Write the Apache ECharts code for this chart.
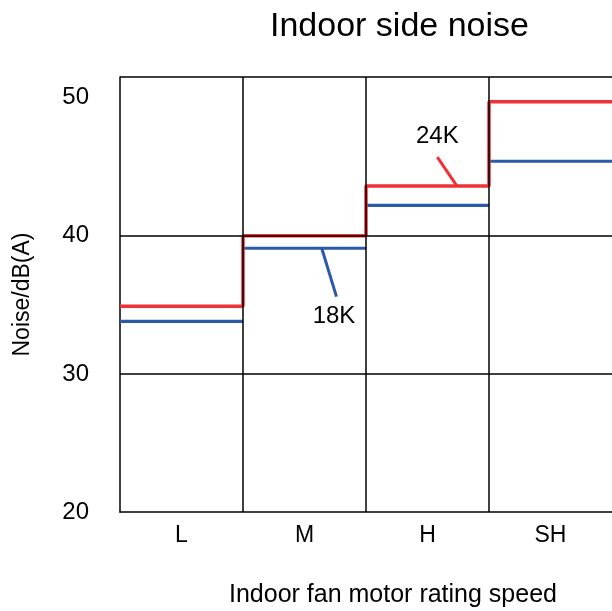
<!DOCTYPE html>
<html><head><meta charset="utf-8">
<script src="https://cdn.jsdelivr.net/npm/echarts@6/dist/echarts.min.js"></script>
<style>html,body{margin:0;padding:0;background:#fff}#c{width:612px;height:611px}</style>
</head><body><div id="c"></div>
<script>
var categories = ['L', 'M', 'H', 'SH'];
var noise24K = [34.9, 40.0, 43.6, 49.7];
var noise18K = [33.8, 39.1, 42.2, 45.4];
var yTicks = [20, 30, 40, 50];
var yMax = 51.5;
var label24K = {text: '24K', at: [2.58, 47.2], leader: [[2.58, 45.7], [2.74, 43.6]]};
var label18K = {text: '18K', at: [1.74, 34.2], leader: [[1.64, 39.1], [1.76, 35.6]]};

var FONT = 'Liberation Sans, Arial, sans-serif';
var RED = '#ee3237', BLUE = '#2a5aa8';

function stepData(vals) {
  var d = [];
  vals.forEach(function (v, i) { d.push([i, v]); d.push([i + 1, v]); });
  return d;
}
function segData(vals) {
  var d = [];
  vals.forEach(function (v, i) { d.push([i, v]); d.push([i + 1, v]); d.push(null); });
  return d;
}

var chart = echarts.init(document.getElementById('c'), null, {renderer: 'canvas'});
chart.setOption({
  animation: false,
  backgroundColor: '#fff',
  title: {
    text: 'Indoor side noise', left: 265, top: 5,
    textStyle: {fontFamily: FONT, fontSize: 34, fontWeight: 'normal', color: '#000'}
  },
  graphic: [{
    type: 'text', left: 229, top: 583,
    style: {text: 'Indoor fan motor rating speed', font: '25px ' + FONT, fill: '#000'}
  }],
  grid: {left: 120, top: 77, bottom: 99, right: 0, show: false, containLabel: false},
  xAxis: {
    type: 'value', min: 0, max: categories.length, interval: 0.5,
    axisLine: {show: true, lineStyle: {color: '#000', width: 1.5}},
    axisTick: {show: false},
    splitLine: {show: false},
    axisLabel: {
      fontFamily: FONT, fontSize: 23, color: '#000', margin: 12,
      showMaxLabel: false, showMinLabel: false,
      formatter: function (v) {
        var r = Math.round(v * 2) / 2;
        if (Math.abs(r % 1 - 0.5) < 1e-6) { return categories[Math.floor(r)] || ''; }
        return '';
      }
    }
  },
  yAxis: {
    type: 'value', min: yTicks[0], max: yMax, interval: 10,
    axisLine: {show: true, lineStyle: {color: '#000', width: 1.5}},
    axisTick: {show: false},
    splitLine: {show: false},
    axisLabel: {fontFamily: FONT, fontSize: 24, color: '#000', margin: 31, showMaxLabel: false,
      padding: [4, 0, 0, 0],
      formatter: function (v) { return yTicks.indexOf(v) >= 0 ? String(v) : ''; }},
    name: 'Noise/dB(A)', nameLocation: 'middle', nameGap: 86,
    nameTextStyle: {fontFamily: FONT, fontSize: 23, color: '#000'}
  },
  series: [
    {
      type: 'line', data: [], silent: true,
      markLine: {
        silent: true, symbol: 'none', label: {show: false},
        lineStyle: {color: '#000', width: 1.5, type: 'solid'},
        data: [{yAxis: 30}, {yAxis: 40}, {yAxis: yMax}, {xAxis: 1}, {xAxis: 2}, {xAxis: 3}]
      }
    },
    {
      name: '18K', type: 'line', data: segData(noise18K), connectNulls: false,
      showSymbol: false, symbol: 'none',
      lineStyle: {color: BLUE, width: 3.2}, itemStyle: {color: BLUE},
      markLine: {
        silent: true, symbol: 'none', label: {show: false},
        lineStyle: {color: BLUE, width: 3, type: 'solid'},
        data: [[{coord: label18K.leader[0]}, {coord: label18K.leader[1]}]]
      },
      markPoint: {
        symbol: 'circle', symbolSize: 0,
        label: {show: true, position: 'inside', color: '#000', fontFamily: FONT, fontSize: 24},
        data: [{coord: label18K.at, value: label18K.text}]
      }
    },
    {
      name: '24K', type: 'line', data: stepData(noise24K),
      showSymbol: false, symbol: 'none',
      lineStyle: {color: RED, width: 3.5}, itemStyle: {color: RED},
      markLine: {
        silent: true, symbol: 'none', label: {show: false},
        lineStyle: {color: RED, width: 3, type: 'solid'},
        data: [[{coord: label24K.leader[0]}, {coord: label24K.leader[1]}]]
      },
      markPoint: {
        symbol: 'circle', symbolSize: 0,
        label: {show: true, position: 'inside', color: '#000', fontFamily: FONT, fontSize: 24},
        data: [{coord: label24K.at, value: label24K.text}]
      }
    }
  ]
});
</script></body></html>
